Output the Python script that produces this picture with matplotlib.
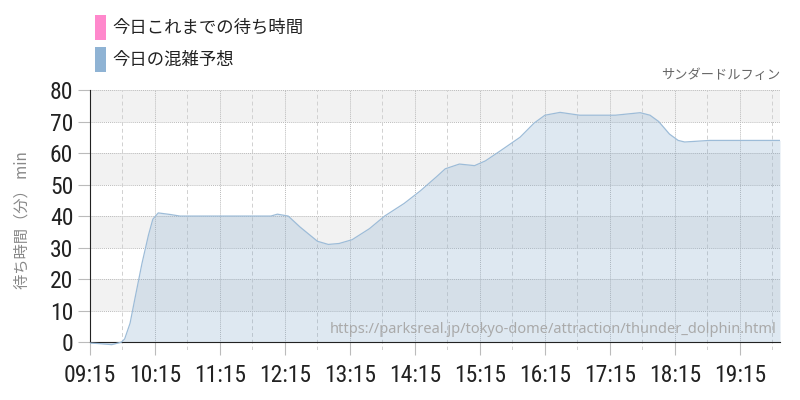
import numpy as np
import matplotlib
matplotlib.use("Agg")
import matplotlib.pyplot as plt
from matplotlib.patches import Rectangle
from matplotlib import font_manager

# wait-time forecast (clock time, minutes of waiting)
times = ["09:15", "09:25", "09:35", "09:44", "09:47", "09:52", "09:56", "10:03",
         "10:09", "10:13", "10:18", "10:29", "10:38", "11:15", "12:02", "12:08",
         "12:18", "12:29", "12:45", "12:55", "13:05", "13:17", "13:33", "13:47",
         "14:05", "14:20", "14:35", "14:43", "14:56", "15:10", "15:20", "15:33",
         "15:52", "16:05", "16:15", "16:29", "16:47", "17:20", "17:43", "17:52",
         "18:00", "18:10", "18:18", "18:24", "18:47", "19:52"]
waits = [-0.3, -0.5, -0.8, 0, 1, 6, 13, 25,
         34, 39, 41, 40.5, 40, 40, 40, 40.6,
         40, 36.5, 32, 31, 31.3, 32.5, 36, 40,
         44, 48, 52.5, 55, 56.5, 56, 57.5, 60.5,
         65, 69.5, 72, 72.9, 72, 72, 72.8, 72,
         70, 66, 64, 63.5, 64, 64]
tick_labels = ["09:15", "10:15", "11:15", "12:15", "13:15", "14:15",
               "15:15", "16:15", "17:15", "18:15", "19:15"]
y_ticks = [0, 10, 20, 30, 40, 50, 60, 70, 80]


def to_min(s):
    h, m = s.split(":")
    return int(h) * 60 + int(m)


x = np.array([to_min(t) for t in times])
y = np.array(waits)
xt = [to_min(t) for t in tick_labels]
x0 = to_min("09:15")
x1 = to_min("19:52")

# pick a narrow font for the numbers if one is installed
names = set(f.name for f in font_manager.fontManager.ttflist)
num_font = None
for cand in ["Roboto Condensed", "Liberation Sans Narrow", "DejaVu Sans Condensed",
             "Open Sans Condensed", "Noto Sans Condensed"]:
    if cand in names:
        num_font = cand
        break
num_stretch = "normal"
if num_font is None:
    num_font = "DejaVu Sans"
    num_stretch = "condensed"
num = [num_font, "DejaVu Sans"]
jp = ["Noto Sans CJK JP", "DejaVu Sans"]

fig = plt.figure(figsize=(8, 4), dpi=100)
ax = fig.add_axes([0.1125, 0.125, 0.8625, 0.65])

# spines first (moving a spine resets the ticks)
for s in ["top", "right"]:
    ax.spines[s].set_visible(False)
ax.spines["left"].set_color("#222222")
ax.spines["bottom"].set_color("#222222")
ax.spines["bottom"].set_position(("data", 0))
ax.spines["left"].set_bounds(0, 80)

# alternating bands
for lo in range(0, 80, 10):
    if (lo // 10) % 2 == 1:
        ax.axhspan(lo, lo + 10, color="#f2f2f2", zorder=0, lw=0)

# grid
for v in y_ticks:
    ax.axhline(v, color="#bbbbbb", lw=0.7, ls=(0, (1, 1)), zorder=1)
for t in xt:
    ax.axvline(t, color="#bbbbbb", lw=0.7, ls=(0, (1, 1)), zorder=1)
    ax.axvline(t + 30, color="#d0d0d0", lw=0.7, ls=(0, (4, 3)), zorder=1)

ax.fill_between(x, y, 0, color="#7fa7cb", alpha=0.25, lw=0, zorder=2)
ax.plot(x, y, color="#9dbcd8", lw=0.9, zorder=3)

ax.set_xlim(x0, x1)
ax.set_ylim(-2.5, 80)
ax.set_yticks(y_ticks)
ax.set_yticklabels([str(v) for v in y_ticks])
ax.set_xticks(xt)
ax.set_xticklabels(tick_labels)
ax.tick_params(axis="both", length=9, color="#bbbbbb", width=0.8,
               labelsize=17, labelcolor="#222222")
ax.tick_params(axis="y", pad=3)
ax.tick_params(axis="x", pad=7)
for lab in ax.get_xticklabels() + ax.get_yticklabels():
    lab.set_family(num)
    lab.set_stretch(num_stretch)

ax.set_ylabel("待ち時間（分） min", family=jp, fontsize=11, color="#888888", labelpad=14)

ax.text(0.995, 0.05, "https://parksreal.jp/tokyo-dome/attraction/thunder_dolphin.html",
        transform=ax.transAxes, ha="right", va="bottom", fontsize=10.5,
        family=["Noto Sans", "DejaVu Sans"], color="#aaaaaa", zorder=5)

fig.text(0.975, 0.795, "サンダードルフィン", family=jp, fontsize=9.5,
         color="#666666", ha="right", va="bottom")

# legend
fig.add_artist(Rectangle((0.119, 0.9), 0.014, 0.0625, transform=fig.transFigure,
                         color="#ff88cc", lw=0))
fig.add_artist(Rectangle((0.119, 0.82), 0.014, 0.0625, transform=fig.transFigure,
                         color="#8fb3d4", lw=0))
fig.text(0.14, 0.931, "今日これまでの待ち時間", family=jp, fontsize=12.5,
         color="#222222", va="center")
fig.text(0.14, 0.851, "今日の混雑予想", family=jp, fontsize=12.5,
         color="#222222", va="center")

fig.savefig("out.png", dpi=100)
